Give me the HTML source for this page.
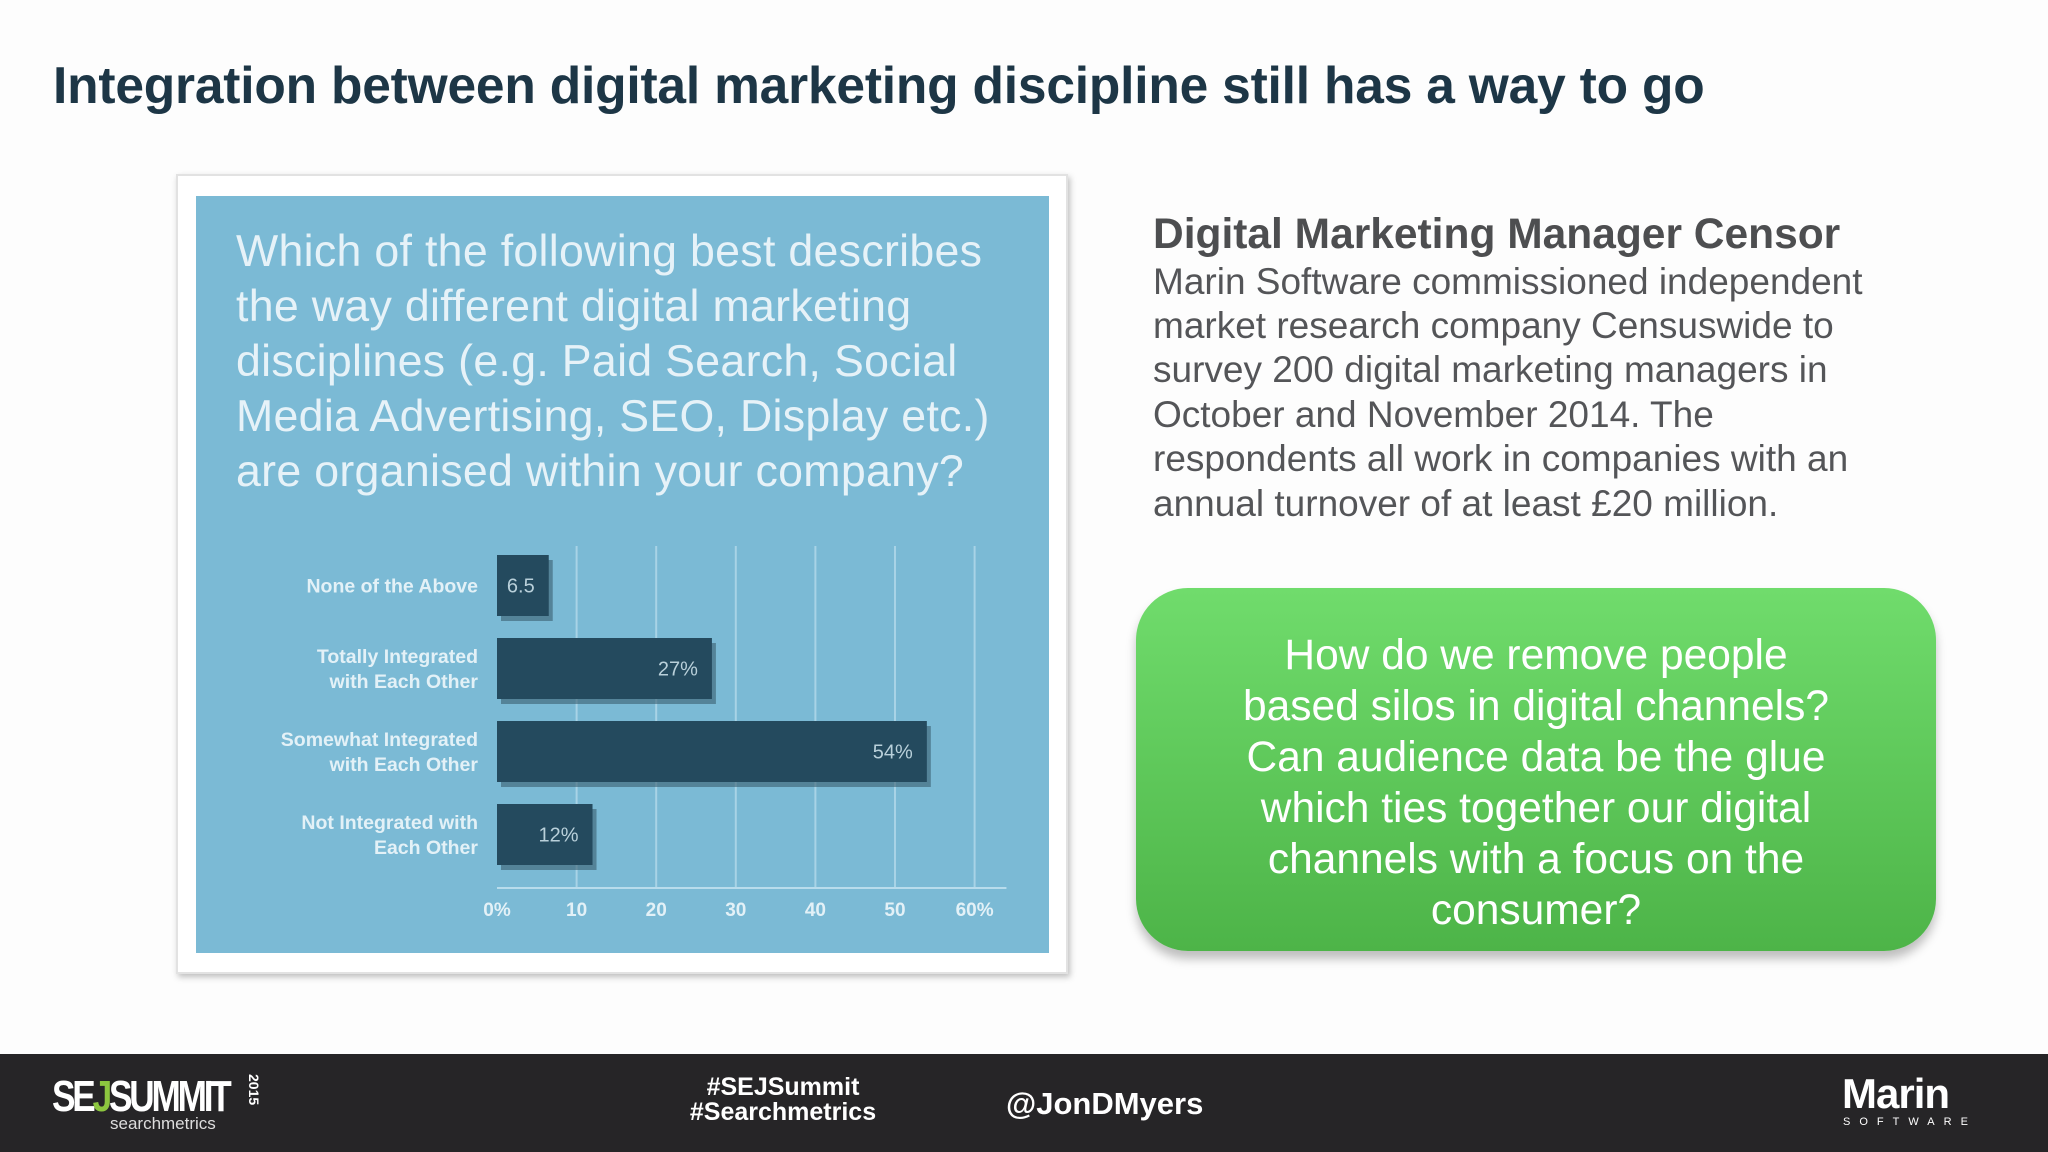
<!DOCTYPE html>
<html><head><meta charset="utf-8">
<style>
*{margin:0;padding:0;box-sizing:border-box}
body{width:2048px;height:1152px;background:#fdfdfd;position:relative;overflow:hidden;font-family:"Liberation Sans",Arial,sans-serif}
.abs{position:absolute}
#title{left:53px;top:55px;font-size:51.5px;font-weight:bold;color:#1d3646;white-space:nowrap;letter-spacing:-0.2px}
#frame{left:176px;top:174px;width:892px;height:800px;background:#fff;border:2px solid #e2e2e2;box-shadow:2px 3px 6px rgba(0,0,0,.25)}
#panel{left:196px;top:196px;width:853px;height:757px;background:#7bbad5}
.q{left:236px;font-size:44.7px;color:#e6f2f8;white-space:nowrap;letter-spacing:0.3px}
#head{left:1153px;top:211px;font-size:42.5px;font-weight:bold;color:#4d4e50;white-space:nowrap}
.bd{left:1153px;font-size:37px;color:#545558;white-space:nowrap}
#green{left:1136px;top:588px;width:800px;height:363px;border-radius:52px;background:linear-gradient(#70dc6c,#4db448);box-shadow:0 8px 10px rgba(0,0,0,.25);color:#fff;font-size:42.5px;text-align:center;line-height:51px;padding-top:42px}
#footer{left:0;top:1054px;width:2048px;height:98px;background:#262527;color:#fff}
</style></head><body>
<div id="title" class="abs">Integration between digital marketing discipline still has a way to go</div>
<div id="frame" class="abs"></div>
<div id="panel" class="abs"></div>
<div class="abs q" style="top:227px">Which of the following best describes</div>
<div class="abs q" style="top:282px">the way different digital marketing</div>
<div class="abs q" style="top:337px">disciplines (e.g. Paid Search, Social</div>
<div class="abs q" style="top:392px">Media Advertising, SEO, Display etc.)</div>
<div class="abs q" style="top:447px">are organised within your company?</div>
<svg class="abs" style="left:0;top:0" width="2048" height="1152" id="chart"></svg>
<div id="head" class="abs">Digital Marketing Manager Censor</div>
<div class="abs bd" style="top:261px">Marin Software commissioned independent</div>
<div class="abs bd" style="top:305px">market research company Censuswide to</div>
<div class="abs bd" style="top:349px">survey 200 digital marketing managers in</div>
<div class="abs bd" style="top:394px">October and November 2014. The</div>
<div class="abs bd" style="top:438px">respondents all work in companies with an</div>
<div class="abs bd" style="top:483px">annual turnover of at least £20 million.</div>
<div id="green" class="abs">How do we remove people<br>based silos in digital channels?<br>Can audience data be the glue<br>which ties together our digital<br>channels with a focus on the<br>consumer?</div>
<div id="footer" class="abs">
 <div class="abs" style="left:52px;top:18px;font-size:44px;font-weight:bold;letter-spacing:-4px;transform:scaleX(0.8);transform-origin:left">SE<span style="color:#8cc63f">J</span>SUMMIT</div>
 <div class="abs" style="top:20px;font-size:14px;font-weight:bold;transform:rotate(90deg);transform-origin:left top;left:262px">2015</div>
 <div class="abs" style="left:110px;top:60px;font-size:17px;color:#ddd">searchmetrics</div>
 <div class="abs" style="left:683px;top:21px;width:200px;text-align:center;font-size:25px;font-weight:bold;line-height:25px">#SEJSummit<br>#Searchmetrics</div>
 <div class="abs" style="left:1006px;top:32px;font-size:31px;font-weight:bold">@JonDMyers</div>
 <div class="abs" style="left:1842px;top:16px;font-size:42px;font-weight:bold;letter-spacing:-1px">Marin</div>
 <div class="abs" style="left:1843px;top:62px;font-size:11px;letter-spacing:9px">SOFTWARE</div>
</div>
<script>
const categories=["None of the Above","Totally Integrated|with Each Other","Somewhat Integrated|with Each Other","Not Integrated with|Each Other"];
const values=[6.5,27,54,12];
const valueLabels=["6.5","27%","54%","12%"];
const ticks=[0,10,20,30,40,50,60];
const tickLabels=["0%","10","20","30","40","50","60%"];
const svg=document.getElementById('chart');
const NS="http://www.w3.org/2000/svg";
const x0=497,xScale=7.96;
const x=v=>x0+v*xScale;
const bandTop=555,bandStep=83,barH=61;
const y=i=>bandTop+i*bandStep;
function mk(t,a){const e=document.createElementNS(NS,t);for(const k in a)e.setAttribute(k,a[k]);svg.appendChild(e);return e;}
ticks.forEach((t,i)=>{
 if(t>0){const g=mk('line',{x1:x(t),x2:x(t),y1:546,y2:888,stroke:'#a8d3e6','stroke-width':2});
 
 }
 const tl=mk('text',{x:x(t),y:916,'text-anchor':'middle','font-size':19,fill:'#e3f1f7','font-family':'Liberation Sans, sans-serif','font-weight':'bold'});
 tl.textContent=tickLabels[i];
 
 
});
const ax=mk('line',{x1:x(0),x2:x(64),y1:888,y2:888,stroke:'#b8dcec','stroke-width':2});


values.forEach((v,i)=>{
 const sh=mk('rect',{x:x(0)+4,y:y(i)+5,width:x(v)-x(0),height:barH,fill:'#3a5f70',opacity:0.6});
 
 
 const r=mk('rect',{x:x(0),y:y(i),width:x(v)-x(0),height:barH,fill:'#244a5e'});
 
 
 const vl=mk('text',{x:x(v)-14,y:y(i)+barH/2+7,'text-anchor':'end','font-size':20,fill:'#b9d0da','font-family':'Liberation Sans, sans-serif'});
 vl.textContent=valueLabels[i];
 
 
 const lines=categories[i].split('|');
 lines.forEach((ln,j)=>{
  const cy=y(i)+barH/2+7+(j-(lines.length-1)/2)*25;
  const c=mk('text',{x:478,y:cy,'text-anchor':'end','font-size':19.5,'font-weight':'bold',fill:'#e3f1f7','font-family':'Liberation Sans, sans-serif'});
  c.textContent=ln;
  
  
 });
});
</script>
</body></html>
